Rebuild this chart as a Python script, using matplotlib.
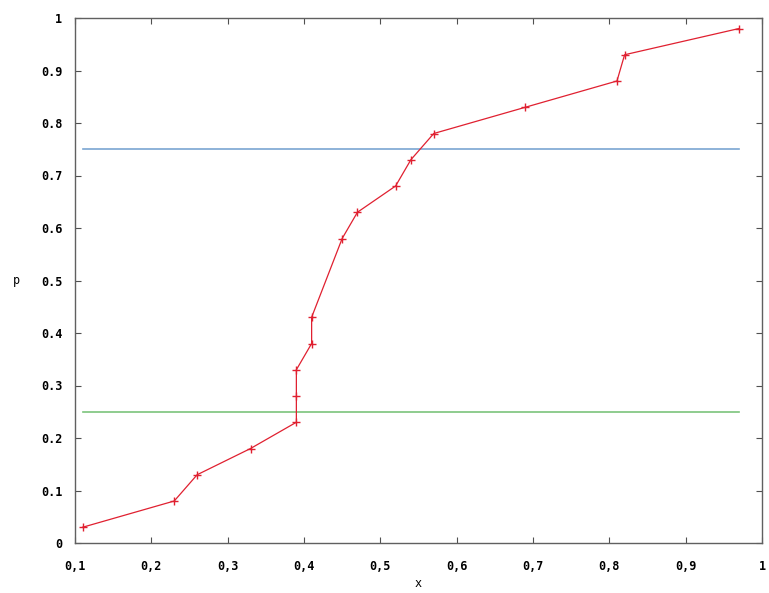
import matplotlib
matplotlib.use('Agg')
import matplotlib.pyplot as plt
import numpy as np

x = np.array([0.11, 0.23, 0.26, 0.33, 0.39, 0.39, 0.39, 0.41, 0.41,
              0.45, 0.47, 0.52, 0.54, 0.57, 0.69, 0.81, 0.82, 0.97])
p = np.array([0.03, 0.08, 0.13, 0.18, 0.23, 0.28, 0.33, 0.38, 0.43,
              0.58, 0.63, 0.68, 0.73, 0.78, 0.83, 0.88, 0.93, 0.98])
q_low = 0.25
q_high = 0.75

xticks = [0.1, 0.2, 0.3, 0.4, 0.5, 0.6, 0.7, 0.8, 0.9, 1.0]
xtick_labels = ['0,1', '0,2', '0,3', '0,4', '0,5', '0,6', '0,7', '0,8', '0,9', '1']
yticks = [0, 0.1, 0.2, 0.3, 0.4, 0.5, 0.6, 0.7, 0.8, 0.9, 1.0]
ytick_labels = ['0', '0.1', '0.2', '0.3', '0.4', '0.5', '0.6', '0.7', '0.8', '0.9', '1']

if __name__ == '__main__':
    plt.rcParams['font.family'] = ['DejaVu Sans Mono']
    plt.rcParams['font.size'] = 8.5
    plt.rcParams['font.weight'] = 'bold'

    fig = plt.figure(figsize=(7.69, 5.93), dpi=100)
    ax = fig.add_axes([75 / 769, 50 / 593, 687 / 769, 525 / 593])

    ax.plot([x.min(), x.max()], [q_high, q_high], color='#7aa6d2', lw=1.2)
    ax.plot([x.min(), x.max()], [q_low, q_low], color='#7cc47c', lw=1.2)
    ax.plot(x, p, color='#e02030', lw=0.9, marker='+', markersize=6,
            markeredgewidth=1.0)

    ax.set_xlim(0.1, 1.0)
    ax.set_ylim(0, 1.0)
    ax.set_xticks(xticks)
    ax.set_xticklabels(xtick_labels)
    ax.set_yticks(yticks)
    ax.set_yticklabels(ytick_labels)
    ax.tick_params(axis='x', pad=12)
    ax.tick_params(axis='y', pad=9)
    ax.tick_params(direction='in', length=4, top=True, right=True,
                   color='#505050', width=0.8)
    for s in ax.spines.values():
        s.set_color('#606060')
        s.set_linewidth(1.0)

    ax.set_xlabel('x', labelpad=3)
    ax.set_ylabel('p', labelpad=18, rotation=0, va='center')

    fig.savefig('out.png', dpi=100)
